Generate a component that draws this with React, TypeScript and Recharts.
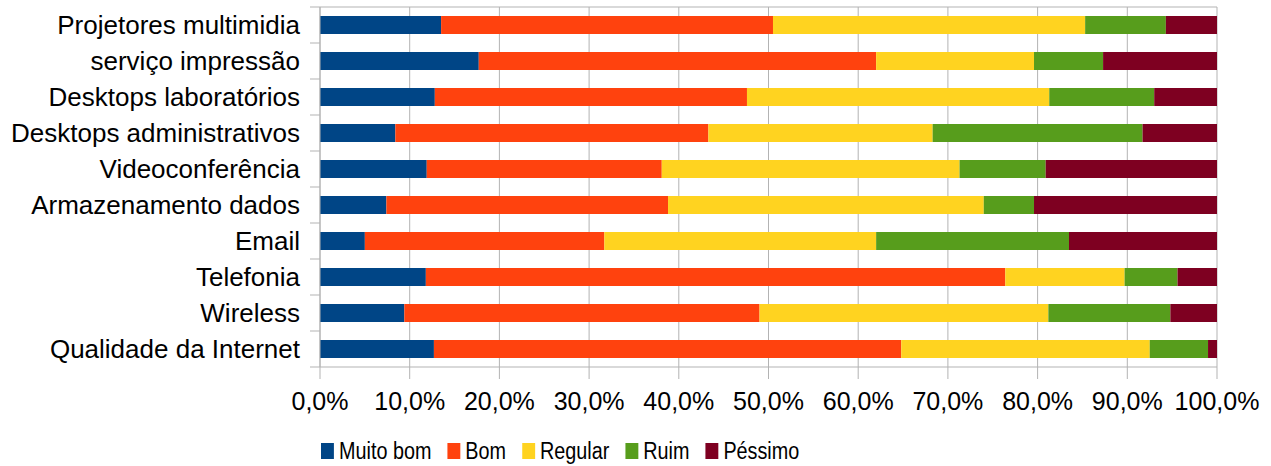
import { Bar, BarChart, CartesianGrid, Legend, XAxis, YAxis } from "recharts";

const CATEGORIES = [
  "Projetores multimidia",
  "serviço impressão",
  "Desktops laboratórios",
  "Desktops administrativos",
  "Videoconferência",
  "Armazenamento dados",
  "Email",
  "Telefonia",
  "Wireless",
  "Qualidade da Internet",
];

const MUITO_BOM = [13.5, 17.7, 12.8, 8.4, 11.9, 7.4, 5.0, 11.8, 9.4, 12.7];
const BOM = [37.0, 44.3, 34.8, 34.9, 26.2, 31.4, 26.7, 64.6, 39.6, 52.1];
const REGULAR = [34.8, 17.6, 33.7, 25.0, 33.2, 35.2, 30.3, 13.3, 32.2, 27.7];
const RUIM = [9.0, 7.7, 11.7, 23.4, 9.6, 5.6, 21.5, 5.9, 13.6, 6.5];
const PESSIMO = [5.7, 12.7, 7.0, 8.3, 19.1, 20.4, 16.5, 4.4, 5.2, 1.0];

const PERCENT_TICKS = [0, 10, 20, 30, 40, 50, 60, 70, 80, 90, 100];

const SERIES = [
  { key: "muitoBom", name: "Muito bom", color: "#004586", values: MUITO_BOM },
  { key: "bom", name: "Bom", color: "#ff420e", values: BOM },
  { key: "regular", name: "Regular", color: "#ffd320", values: REGULAR },
  { key: "ruim", name: "Ruim", color: "#579d1c", values: RUIM },
  { key: "pessimo", name: "Péssimo", color: "#7e0021", values: PESSIMO },
];

const FONT = '"Liberation Sans", Arial, sans-serif';
const GRID = "#b3b3b3";

const data = CATEGORIES.map((label, i) => {
  const row: Record<string, string | number> = { label };
  SERIES.forEach((s) => {
    row[s.key] = s.values[i];
  });
  return row;
});

const formatPercent = (v: number) => `${v.toFixed(1).replace(".", ",")}%`;

// category label plus short tick marks at the band edges
function CategoryTick(props: any) {
  const { x, y, payload, index } = props;
  const half = payload?.offset ?? 17.9;
  const last = index === CATEGORIES.length - 1;
  return (
    <g>
      <line x1={x + 10} x2={x + 20} y1={y - half} y2={y - half} stroke={GRID} />
      {last && <line x1={x + 10} x2={x + 20} y1={y + half} y2={y + half} stroke={GRID} />}
      <text x={x} y={y} dy="0.355em" textAnchor="end" fontSize={26} fill="#000" fontFamily={FONT}>
        {payload.value}
      </text>
    </g>
  );
}

// legend text in the reference is condensed, so squeeze it horizontally
function renderLegend() {
  return (
    <div style={{ height: 30, paddingLeft: 321, display: "flex", alignItems: "center" }}>
      <div
        style={{
          display: "inline-flex",
          alignItems: "center",
          transform: "scaleX(0.86)",
          transformOrigin: "left center",
          fontFamily: FONT,
          fontSize: 23,
          color: "#000",
          whiteSpace: "nowrap",
        }}
      >
        {SERIES.map((s) => (
          <div key={s.key} style={{ display: "flex", alignItems: "center", marginRight: 18.5 }}>
            <span style={{ width: 15, height: 16, background: s.color, marginRight: 6, display: "inline-block" }} />
            <span>{s.name}</span>
          </div>
        ))}
      </div>
    </div>
  );
}

export default function App() {
  return (
    <div style={{ position: "absolute", left: 0, top: 0, width: 1271, height: 466, background: "#fff" }}>
      <BarChart
        width={1271}
        height={466}
        data={data}
        layout="vertical"
        margin={{ top: 7, right: 54, bottom: 0, left: 0 }}
        style={{ fontFamily: FONT }}
      >
        <CartesianGrid
          stroke={GRID}
          horizontalCoordinatesGenerator={({ offset }: any) => [offset.top]}
        />
        <XAxis
          type="number"
          domain={[0, 100]}
          ticks={PERCENT_TICKS}
          tickFormatter={formatPercent}
          stroke={GRID}
          tickSize={12}
          tickMargin={13}
          height={69}
          tick={{ fill: "#000", fontSize: 25, fontFamily: FONT }}
          interval={0}
        />
        <YAxis
          type="category"
          dataKey="label"
          width={320}
          stroke={GRID}
          tickLine={false}
          tickSize={0}
          tickMargin={20}
          interval={0}
          tick={(p: any) => <CategoryTick {...p} />}
        />
        <Legend verticalAlign="bottom" content={renderLegend} wrapperStyle={{ left: 0, width: 1271 }} />
        {SERIES.map((s) => (
          <Bar
            key={s.key}
            dataKey={s.key}
            name={s.name}
            stackId="a"
            fill={s.color}
            barSize={18}
            isAnimationActive={false}
          />
        ))}
      </BarChart>
    </div>
  );
}
